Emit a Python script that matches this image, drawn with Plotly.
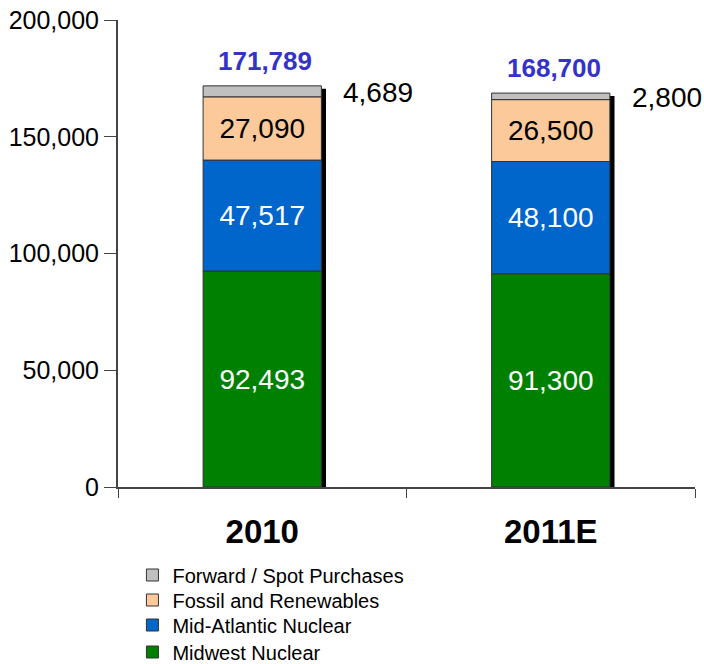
import numpy as np
import plotly.graph_objects as go

# supply sources (GWh), bottom to top of each stack
years = ["2010", "2011E"]
series_names = [
    "Midwest Nuclear",
    "Mid-Atlantic Nuclear",
    "Fossil and Renewables",
    "Forward / Spot Purchases",
]
midwest = [92493, 91300]
mid_atlantic = [47517, 48100]
fossil = [27090, 26500]
forward = [4689, 2800]
totals = [171789, 168700]
y_ticks = [0, 50000, 100000, 150000, 200000]

colors = ["#008000", "#0066cc", "#fcc99a", "#c0c0c0"]
text_colors = ["white", "white", "black", None]

FONT = "Liberation Sans, Arial, sans-serif"
BAR_W = 0.41

W, H = 704, 664
PLOT_L, PLOT_T, PLOT_R, PLOT_B = 118, 20, 695, 487
plot_h = PLOT_B - PLOT_T

values = np.array([midwest, mid_atlantic, fossil, forward])
bases = np.vstack([np.zeros(len(years)), np.cumsum(values, axis=0)[:-1]])

fig = go.Figure()

# drop shadow behind each stack
shadow_dy = 200000 / plot_h * 3
fig.add_trace(go.Bar(
    x=years, y=[t - shadow_dy for t in totals],
    width=BAR_W, offset=-BAR_W / 2 + 0.016,
    marker=dict(color="black", line=dict(width=0)),
    showlegend=False, hoverinfo="skip",
))

# one legend per entry so the row spacing can match the reference
legend_rows = {  # page y of each legend row centre
    "Forward / Spot Purchases": 575,
    "Fossil and Renewables": 600,
    "Mid-Atlantic Nuclear": 625,
    "Midwest Nuclear": 652,
}
legend_ids = {}
for k, (name, row_y) in enumerate(legend_rows.items()):
    lid = "legend" if k == 0 else f"legend{k + 1}"
    legend_ids[name] = lid
    fig.update_layout({lid: dict(
        x=0.025, y=(PLOT_B - row_y) / plot_h,
        xanchor="left", yanchor="middle",
        font=dict(size=20, family=FONT), itemwidth=30,
        bgcolor="rgba(0,0,0,0)",
    )})

for name, vals, base, col, tcol in zip(series_names, values, bases, colors, text_colors):
    fig.add_trace(go.Bar(
        name=name, x=years, y=vals, base=base, width=BAR_W,
        legend=legend_ids[name],
        marker=dict(color=col, line=dict(color="#333333", width=1)),
        text=[f"{v:,}" for v in vals] if tcol else None,
        textposition="inside" if tcol else "none",
        insidetextanchor="middle",
        textfont=dict(color=tcol or "black", size=28, family=FONT),
    ))

# totals above bars
for i, tot in enumerate(totals):
    fig.add_annotation(
        x=i, y=tot, text=f"<b>{tot:,}</b>", showarrow=False,
        yanchor="bottom", yshift=8, xshift=3,
        font=dict(color="#3333cc", size=26, family=FONT),
    )

# forward / spot labels beside bars
for i, v in enumerate(forward):
    fig.add_annotation(
        x=i + 0.285, y=totals[i] - v / 2, text=f"{v:,}",
        showarrow=False, xanchor="left", yshift=-1, xshift=-3,
        font=dict(color="black", size=28, family=FONT),
    )

fig.update_layout(
    width=W, height=H,
    margin=dict(l=PLOT_L, r=W - PLOT_R, t=PLOT_T, b=H - PLOT_B, autoexpand=False),
    barmode="overlay",
    plot_bgcolor="white", paper_bgcolor="white",
    font=dict(family=FONT, color="black"),
)
fig.update_xaxes(
    type="category", range=[-0.5, 1.5],
    showline=True, linecolor="#444444", linewidth=2,
    ticks="outside", tickson="boundaries", ticklen=9, tickcolor="#444444",
    tickfont=dict(size=33, family=FONT, color="black"),
    tickprefix="<b>", ticksuffix="</b>", ticklabelstandoff=14,
    showgrid=False, zeroline=False,
)
fig.update_yaxes(
    range=[0, y_ticks[-1]], tickvals=y_ticks,
    tickformat=",", showline=True, linecolor="#444444", linewidth=2,
    ticks="outside", ticklen=12, tickcolor="#444444",
    tickfont=dict(size=25, family=FONT, color="black"),
    ticklabeloverflow="allow",
    showgrid=False, zeroline=False,
)

# drop the browser's default body margin so the figure fills the window
fig.write_html(
    "out.html",
    config={"displayModeBar": False},
    post_script="document.body.style.margin = '0';",
)
